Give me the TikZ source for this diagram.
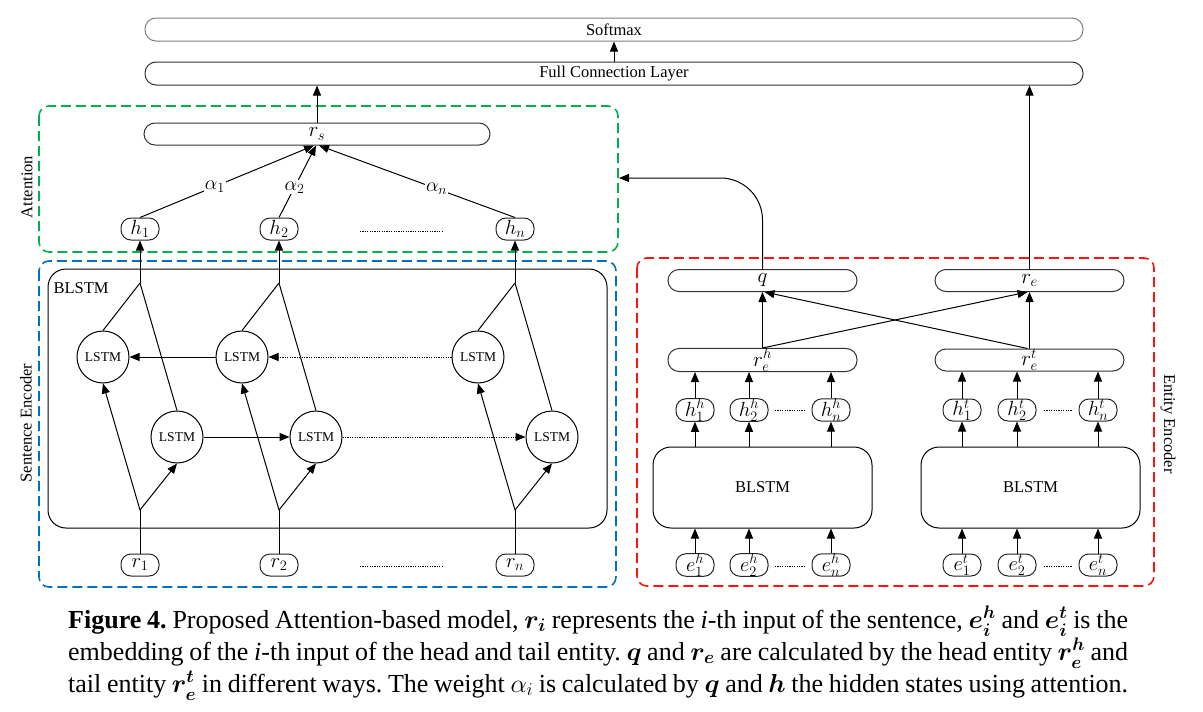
\RequirePackage{fix-cm}
\documentclass[tikz,border=0pt]{standalone}
\usepackage{amsmath}
\usepackage{fontspec}
\setmainfont{Liberation Serif}
\usetikzlibrary{arrows.meta,calc}
\definecolor{grpgreen}{RGB}{0,176,80}
\definecolor{grpblue}{RGB}{0,112,192}
\definecolor{grpred}{RGB}{250,20,20}
\begin{document}
\frenchspacing
\begin{tikzpicture}[x=1pt,y=-1pt,
  every node/.style={font=\fontsize{16.5}{18}\selectfont},
  bar/.style={draw=black!80, line width=1pt, rounded corners=11pt, inner sep=0pt, minimum height=23pt},
  mlab/.style={font=\fontsize{21}{23}\selectfont},
  pill/.style={draw=black!85, line width=1pt, rounded corners=10pt, inner sep=0pt, minimum width=38pt, minimum height=22pt, font=\fontsize{20.5}{22}\selectfont},
  lstm/.style={draw, circle, line width=1pt, minimum size=52pt, inner sep=0pt, font=\fontsize{13.5}{15}\selectfont},
  blk/.style={draw, line width=1pt, rounded corners=18pt, inner sep=0pt},
  arr/.style={line width=1pt, -{Triangle[length=10pt,width=8pt]}},
  ln/.style={line width=1pt},
  dotline/.style={line width=1pt, dash pattern=on 1.2pt off 1.2pt},
  grp/.style={line width=1.6pt, dash pattern=on 10pt off 5pt, rounded corners=10pt},
  alab/.style={fill=white, inner sep=1pt, font=\fontsize{20}{22}\selectfont},
  captext/.style={anchor=base west, inner sep=0pt, font=\fontsize{26}{28}\selectfont},
]
\useasboundingbox (0,0) rectangle (1203,712);

% top layers
\node[bar, draw=gray, minimum width=938pt] (sm) at (614,29.5) {Softmax};
\node[bar, minimum width=938pt] (fc) at (614,73.5) {Full Connection Layer};
\draw[arr] (fc.north) -- (sm.south);

% attention group
\draw[grp, grpgreen] (39,106) rectangle (618,252);
\node[rotate=90] (attlbl) at (27,187) {Attention};
\node[bar, mlab, minimum width=346pt, minimum height=22pt] (rs) at (317,134) {$r_s$};
\draw[arr] (rs.north) -- (rs.north |- fc.south);

% sentence encoder group
\draw[grp, grpblue] (39,261) rectangle (616,587);
\node[rotate=90] (selbl) at (26,423) {Sentence Encoder};
\node[blk, minimum width=559pt, minimum height=259pt] (bl) at (327.5,398.5) {};
\node[anchor=west] (bllbl) at (50,288) {BLSTM};

\foreach \i/\x in {1/140,2/279,n/515}{
  \node[pill] (h\i) at (\x,229) {$h_{\i}$};
  \node[pill] (r\i) at (\x,565) {$r_{\i}$};
  \node[lstm] (u\i) at (\x-37,357) {LSTM};
  \node[lstm] (l\i) at (\x+37,437) {LSTM};
  \coordinate (b\i) at (\x,510);
  \coordinate (m\i) at (\x,283);
  \draw[ln] (r\i.north) -- (b\i);
  \draw[arr] (b\i) -- (u\i.south);
  \draw[arr] (b\i) -- (l\i.south);
  \draw[ln] (u\i.north) -- (m\i);
  \draw[ln] (l\i.north) -- (m\i);
  \draw[arr] (m\i) -- (h\i.south);
}
\draw[arr] (u2) -- (u1);
\draw[arr, dotline] (un) -- (u2);
\draw[arr] (l1) -- (l2);
\draw[arr, dotline] (l2) -- (ln);

\coordinate (hd1) at (360,231); \coordinate (hd2) at (443,231);
\draw[dotline] (hd1) -- (hd2);
\coordinate (rd1) at (360,566); \coordinate (rd2) at (443,566);
\draw[dotline] (rd1) -- (rd2);

\draw[arr] (h1.north) -- node[alab, pos=0.43] {$\alpha_1$} ($(rs.south)+(-3,0)$);
\draw[arr] (h2.north) -- node[alab, pos=0.42] {$\alpha_2$} ($(rs.south)+(-1,0)$);
\draw[arr] (hn.north) -- node[alab, pos=0.40] {$\alpha_n$} ($(rs.south)+(2,0)$);

% entity encoder group
\draw[grp, grpred] (637,258) rectangle (1154,586);
\node[rotate=-90] (eelbl) at (1168,424) {Entity Encoder};

\node[bar, mlab, minimum width=189pt, minimum height=22pt] (q) at (762.5,280.5) {$q$};
\node[bar, mlab, minimum width=189pt, minimum height=22pt] (re) at (1029.5,280.5) {$r_e$};
\node[bar, mlab, minimum width=189pt, minimum height=22pt] (reh) at (762.5,360) {$r_e^h$};
\node[bar, mlab, minimum width=189pt, minimum height=22pt] (ret) at (1029.5,360) {$r_e^t$};

\node[blk, minimum width=219pt, minimum height=81pt] (bh) at (762.5,487.5) {BLSTM};
\node[blk, minimum width=219pt, minimum height=81pt] (bt) at (1030.5,487.5) {BLSTM};

\foreach \i/\x in {1/695,2/749,n/831}{
  \node[pill] (hh\i) at (\x,410) {$h_{\i}^{h}$};
  \node[pill] (eh\i) at (\x,565) {$e_{\i}^{h}$};
  \draw[arr] (eh\i.north) -- (eh\i.north |- bh.south);
  \draw[arr] (hh\i.south |- bh.north) -- (hh\i.south);
  \draw[arr] (hh\i.north) -- (hh\i.north |- reh.south);
}
\foreach \i/\x in {1/962,2/1017,n/1098}{
  \node[pill] (ht\i) at (\x,410) {$h_{\i}^{t}$};
  \node[pill] (et\i) at (\x,565) {$e_{\i}^{t}$};
  \draw[arr] (et\i.north) -- (et\i.north |- bt.south);
  \draw[arr] (ht\i.south |- bt.north) -- (ht\i.south);
  \draw[arr] (ht\i.north) -- (ht\i.north |- ret.south);
}
\coordinate (hhd1) at (775,410); \coordinate (hhd2) at (804,410);
\draw[dotline] (hhd1) -- (hhd2);
\coordinate (ehd1) at (775,566); \coordinate (ehd2) at (804,566);
\draw[dotline] (ehd1) -- (ehd2);
\coordinate (htd1) at (1044,410); \coordinate (htd2) at (1072,410);
\draw[dotline] (htd1) -- (htd2);
\coordinate (etd1) at (1044,566); \coordinate (etd2) at (1072,566);
\draw[dotline] (etd1) -- (etd2);

\draw[arr] (reh.north) -- (q.south);
\draw[arr] (ret.north) -- (re.south);
\draw[arr] (reh.north) -- ($(re.south)+(-2,0)$);
\draw[arr] ($(ret.north)+(-2,0)$) -- ($(q.south)+(2,0)$);

\coordinate (attin) at (619,178);
\draw[arr, rounded corners=42pt] (q.north) |- (attin);
\draw[arr] (re.north) -- (re.north |- fc.south);

% caption
\node[captext] (cap1) at (68,628) {\makebox[1060pt][s]{\textbf{Figure 4.} Proposed Attention-based model, $\boldsymbol{r_i}$ represents the \textit{i}-th input of the sentence, $\boldsymbol{e_i^h}$ and $\boldsymbol{e_i^t}$ is the}};
\node[captext] (cap2) at (68,660) {\makebox[1060pt][s]{embedding of the \textit{i}-th input of the head and tail entity. $\boldsymbol{q}$ and $\boldsymbol{r_e}$ are calculated by the head entity $\boldsymbol{r_e^h}$ and}};
\node[captext] (cap3) at (68,692) {\makebox[1060pt][s]{tail entity $\boldsymbol{r_e^t}$ in different ways. The weight $\alpha_i$ is calculated by $\boldsymbol{q}$ and $\boldsymbol{h}$ the hidden states using attention.}};
\end{tikzpicture}
\end{document}
